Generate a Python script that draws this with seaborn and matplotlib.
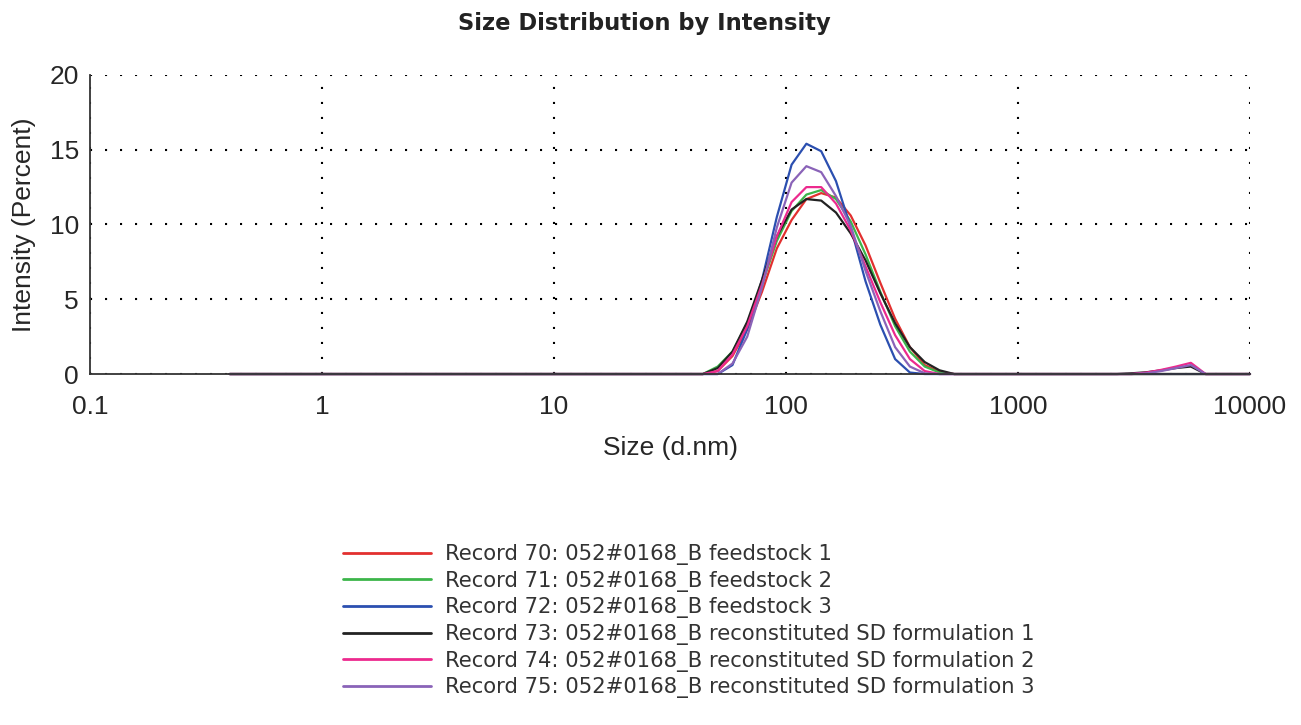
import matplotlib
matplotlib.use("Agg")
import matplotlib.pyplot as plt
import matplotlib.ticker as mticker
import numpy as np
import pandas as pd
import seaborn as sns

# size bins (d.nm)
sizes = [0.4, 37.84, 43.82, 50.75, 58.77, 68.06, 78.82, 91.28, 105.7, 122.4,
         141.8, 164.2, 190.1, 220.2, 255.0, 295.3, 342.0, 396.1, 458.7, 531.2,
         615.1, 712.4, 2305, 2669, 3091, 3580, 4145, 4801, 5560, 6439, 7456, 10000]

rec70 = [0, 0, 0, 0.2, 1.2, 3.0, 5.5, 8.4, 10.3, 11.7, 12.1, 11.8, 10.6, 8.6, 6.1, 3.7,
         1.8, 0.6, 0.15, 0, 0, 0, 0, 0, 0, 0, 0, 0, 0, 0, 0, 0]
rec71 = [0, 0, 0, 0.5, 1.5, 3.4, 6.0, 8.9, 10.9, 12.0, 12.3, 11.7, 10.2, 8.0, 5.5, 3.2,
         1.5, 0.5, 0.1, 0, 0, 0, 0, 0, 0, 0, 0, 0, 0, 0, 0, 0]
rec72 = [0, 0, 0, 0, 0.6, 3.0, 6.3, 10.5, 14.0, 15.4, 14.9, 12.9, 9.8, 6.2, 3.3, 1.0,
         0.1, 0, 0, 0, 0, 0, 0, 0, 0, 0, 0, 0, 0, 0, 0, 0]
rec73 = [0, 0, 0, 0.4, 1.5, 3.5, 6.3, 9.2, 11.0, 11.7, 11.6, 10.8, 9.4, 7.6, 5.4, 3.4,
         1.8, 0.8, 0.25, 0, 0, 0, 0, 0, 0.05, 0.12, 0.25, 0.4, 0.5, 0, 0, 0]
rec74 = [0, 0, 0, 0.2, 1.3, 3.2, 6.0, 9.2, 11.5, 12.5, 12.5, 11.4, 9.6, 7.2, 4.8, 2.6,
         1.0, 0.2, 0, 0, 0, 0, 0, 0, 0, 0.1, 0.28, 0.5, 0.75, 0, 0, 0]
rec75 = [0, 0, 0, 0, 0.7, 2.5, 5.8, 9.8, 12.8, 13.9, 13.5, 11.9, 9.9, 6.9, 4.2, 1.8,
         0.5, 0.05, 0, 0, 0, 0, 0, 0, 0, 0.05, 0.2, 0.4, 0.6, 0, 0, 0]

labels = ["Record 70: 052#0168_B feedstock 1",
          "Record 71: 052#0168_B feedstock 2",
          "Record 72: 052#0168_B feedstock 3",
          "Record 73: 052#0168_B reconstituted SD formulation 1",
          "Record 74: 052#0168_B reconstituted SD formulation 2",
          "Record 75: 052#0168_B reconstituted SD formulation 3"]
colors = ["#e2302f", "#3cb54a", "#2b4fb0", "#222222", "#ec2a8e", "#8a63b8"]

frames = []
for lab, vals in zip(labels, [rec70, rec71, rec72, rec73, rec74, rec75]):
    frames.append(pd.DataFrame({"size": sizes, "intensity": vals, "record": lab}))
df = pd.concat(frames, ignore_index=True)

sns.set_style("white")
plt.rcParams["font.family"] = ["Liberation Sans", "DejaVu Sans"]

fig = plt.figure(figsize=(13.01, 7.25), dpi=100)
ax = fig.add_axes([0.0692, 0.4841, 0.8916, 0.4125])

sns.lineplot(data=df, x="size", y="intensity", hue="record", palette=colors,
             hue_order=labels, linewidth=1.6, ax=ax, sort=False, clip_on=False)

ax.set_xscale("log")
ax.set_xlim(0.1, 10000)
ax.set_ylim(0, 20)

ax.xaxis.set_major_locator(mticker.LogLocator(base=10))
ax.xaxis.set_major_formatter(mticker.FuncFormatter(lambda v, p: f"{v:g}"))
ax.xaxis.set_minor_locator(mticker.LogLocator(base=10, subs=np.arange(2, 10)))
ax.xaxis.set_minor_formatter(mticker.NullFormatter())
ax.yaxis.set_major_locator(mticker.MultipleLocator(5))
ax.yaxis.set_minor_locator(mticker.MultipleLocator(2.5))

ax.grid(True, which="major", color="black", linestyle=(0, (1, 6.2)), linewidth=1.5)
ax.set_axisbelow(True)
for s in ["top", "right"]:
    ax.spines[s].set_visible(False)
for s in ["left", "bottom"]:
    ax.spines[s].set_color("#333333")
    ax.spines[s].set_linewidth(1.3)

ax.tick_params(axis="both", which="both", direction="inout", color="#333333", width=1.2)
ax.tick_params(axis="both", which="major", length=10, labelsize=19)
ax.tick_params(axis="both", which="minor", length=8)
ax.tick_params(axis="x", which="major", pad=10)
ax.tick_params(axis="y", which="major", pad=3)

ax.set_xlabel("Size (d.nm)", fontsize=19, labelpad=12)
ax.set_ylabel("Intensity (Percent)", fontsize=19, labelpad=10)

fig.text(0.495, 0.968, "Size Distribution by Intensity", ha="center", va="center",
         fontsize=16.3, fontweight="bold", family=["DejaVu Sans"], color="#222222")

handles, labs = ax.get_legend_handles_labels()
ax.get_legend().remove()
leg = fig.legend(handles, labs, loc="upper left", bbox_to_anchor=(0.249, 0.276),
                 frameon=False, handlelength=4.15, handletextpad=0.7, labelspacing=0.27,
                 prop={"family": ["DejaVu Sans"], "size": 15.2})
for line in leg.get_lines():
    line.set_linewidth(2)
for t in leg.get_texts():
    t.set_color("#333333")

fig.savefig("out.png", dpi=100)
